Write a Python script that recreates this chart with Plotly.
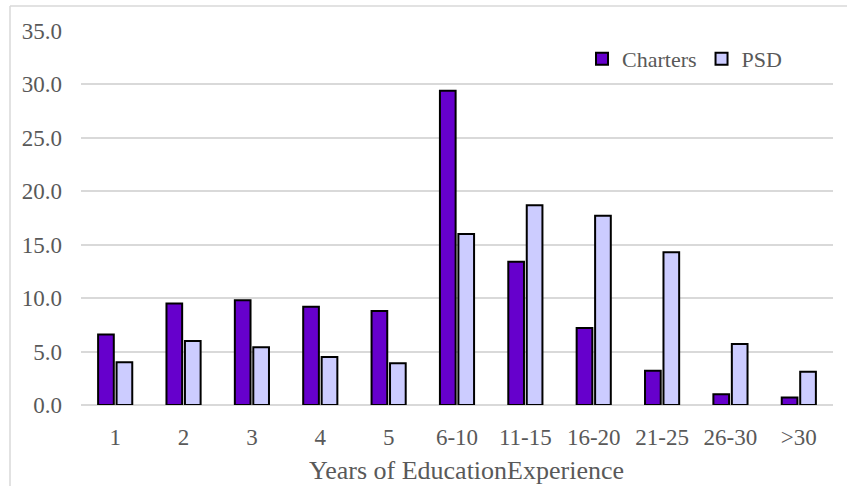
import plotly.graph_objects as go

# Share of teachers (%) by years of education experience
categories = ["1", "2", "3", "4", "5", "6-10", "11-15", "16-20", "21-25", "26-30", ">30"]
charters = [6.6, 9.5, 9.8, 9.2, 8.8, 29.4, 13.4, 7.2, 3.2, 1.0, 0.7]
psd = [4.0, 6.0, 5.4, 4.5, 3.9, 16.0, 18.7, 17.7, 14.3, 5.7, 3.1]
y_ticks = [0, 5, 10, 15, 20, 25, 30, 35]
y_tick_text = [f"{v:.1f}" for v in y_ticks]

W, H = 847, 486
L, R, T, B = 81, 14, 31, 81
PW, PH = W - L - R, H - T - B


def px_x(px):
    return (px - L) / PW


def px_y(py):
    return (H - B - py) / PH


FONT = "Liberation Serif, Times New Roman, serif"
GREY = "#595959"

fig = go.Figure()
fig.add_trace(go.Bar(
    name="Charters", x=categories, y=charters,
    marker=dict(color="#6600CC", line=dict(color="#000000", width=2)),
))
fig.add_trace(go.Bar(
    name="PSD", x=categories, y=psd,
    marker=dict(color="#CCCCFF", line=dict(color="#000000", width=2)),
))

# chart-area frame (left and top edges)
frame = dict(type="line", xref="paper", yref="paper", layer="below",
             line=dict(color="#d9d9d9", width=1.5))
fig.add_shape(**frame, x0=px_x(10), y0=px_y(6), x1=px_x(W + 20), y1=px_y(6))
fig.add_shape(**frame, x0=px_x(10), y0=px_y(6), x1=px_x(10), y1=px_y(H + 20))

# chart title (sits mostly above the frame)
fig.add_annotation(
    text="Teachers by Years of Experience (Aggregated All Schools)",
    xref="paper", yref="paper", x=px_x(752), y=px_y(2.5),
    xanchor="right", yanchor="bottom", showarrow=False,
    font=dict(family=FONT, size=31, color="#262626"),
)

# x-axis title, centred under the category labels
fig.add_annotation(
    text="Years of EducationExperience",
    xref="paper", yref="paper", x=px_x(466), y=px_y(470),
    xanchor="center", yanchor="middle", showarrow=False,
    font=dict(family=FONT, size=26, color=GREY),
)

fig.update_layout(
    width=W, height=H,
    margin=dict(l=L, r=R, t=T, b=B, autoexpand=False),
    paper_bgcolor="white", plot_bgcolor="white",
    barmode="group", bargap=0.46, bargroupgap=0.15,
    font=dict(family=FONT, size=23, color=GREY),
    showlegend=True,
    legend=dict(
        orientation="h", x=px_x(582), y=px_y(38), xanchor="left", yanchor="top",
        bgcolor="rgba(0,0,0,0)", font=dict(family=FONT, size=22, color=GREY),
        itemwidth=30, traceorder="normal",
    ),
    xaxis=dict(
        showgrid=False, showline=False, ticks="", ticklabelstandoff=16,
        tickfont=dict(family=FONT, size=23, color=GREY),
    ),
    yaxis=dict(
        range=[0, 35], tickvals=y_ticks, ticktext=y_tick_text,
        showgrid=True, gridcolor="#d9d9d9", gridwidth=1.5,
        zeroline=True, zerolinecolor="#d9d9d9", zerolinewidth=1.5,
        showline=False, ticks="", ticklabelstandoff=18,
        tickfont=dict(family=FONT, size=23, color=GREY),
    ),
)

fig.write_html("out.html")
